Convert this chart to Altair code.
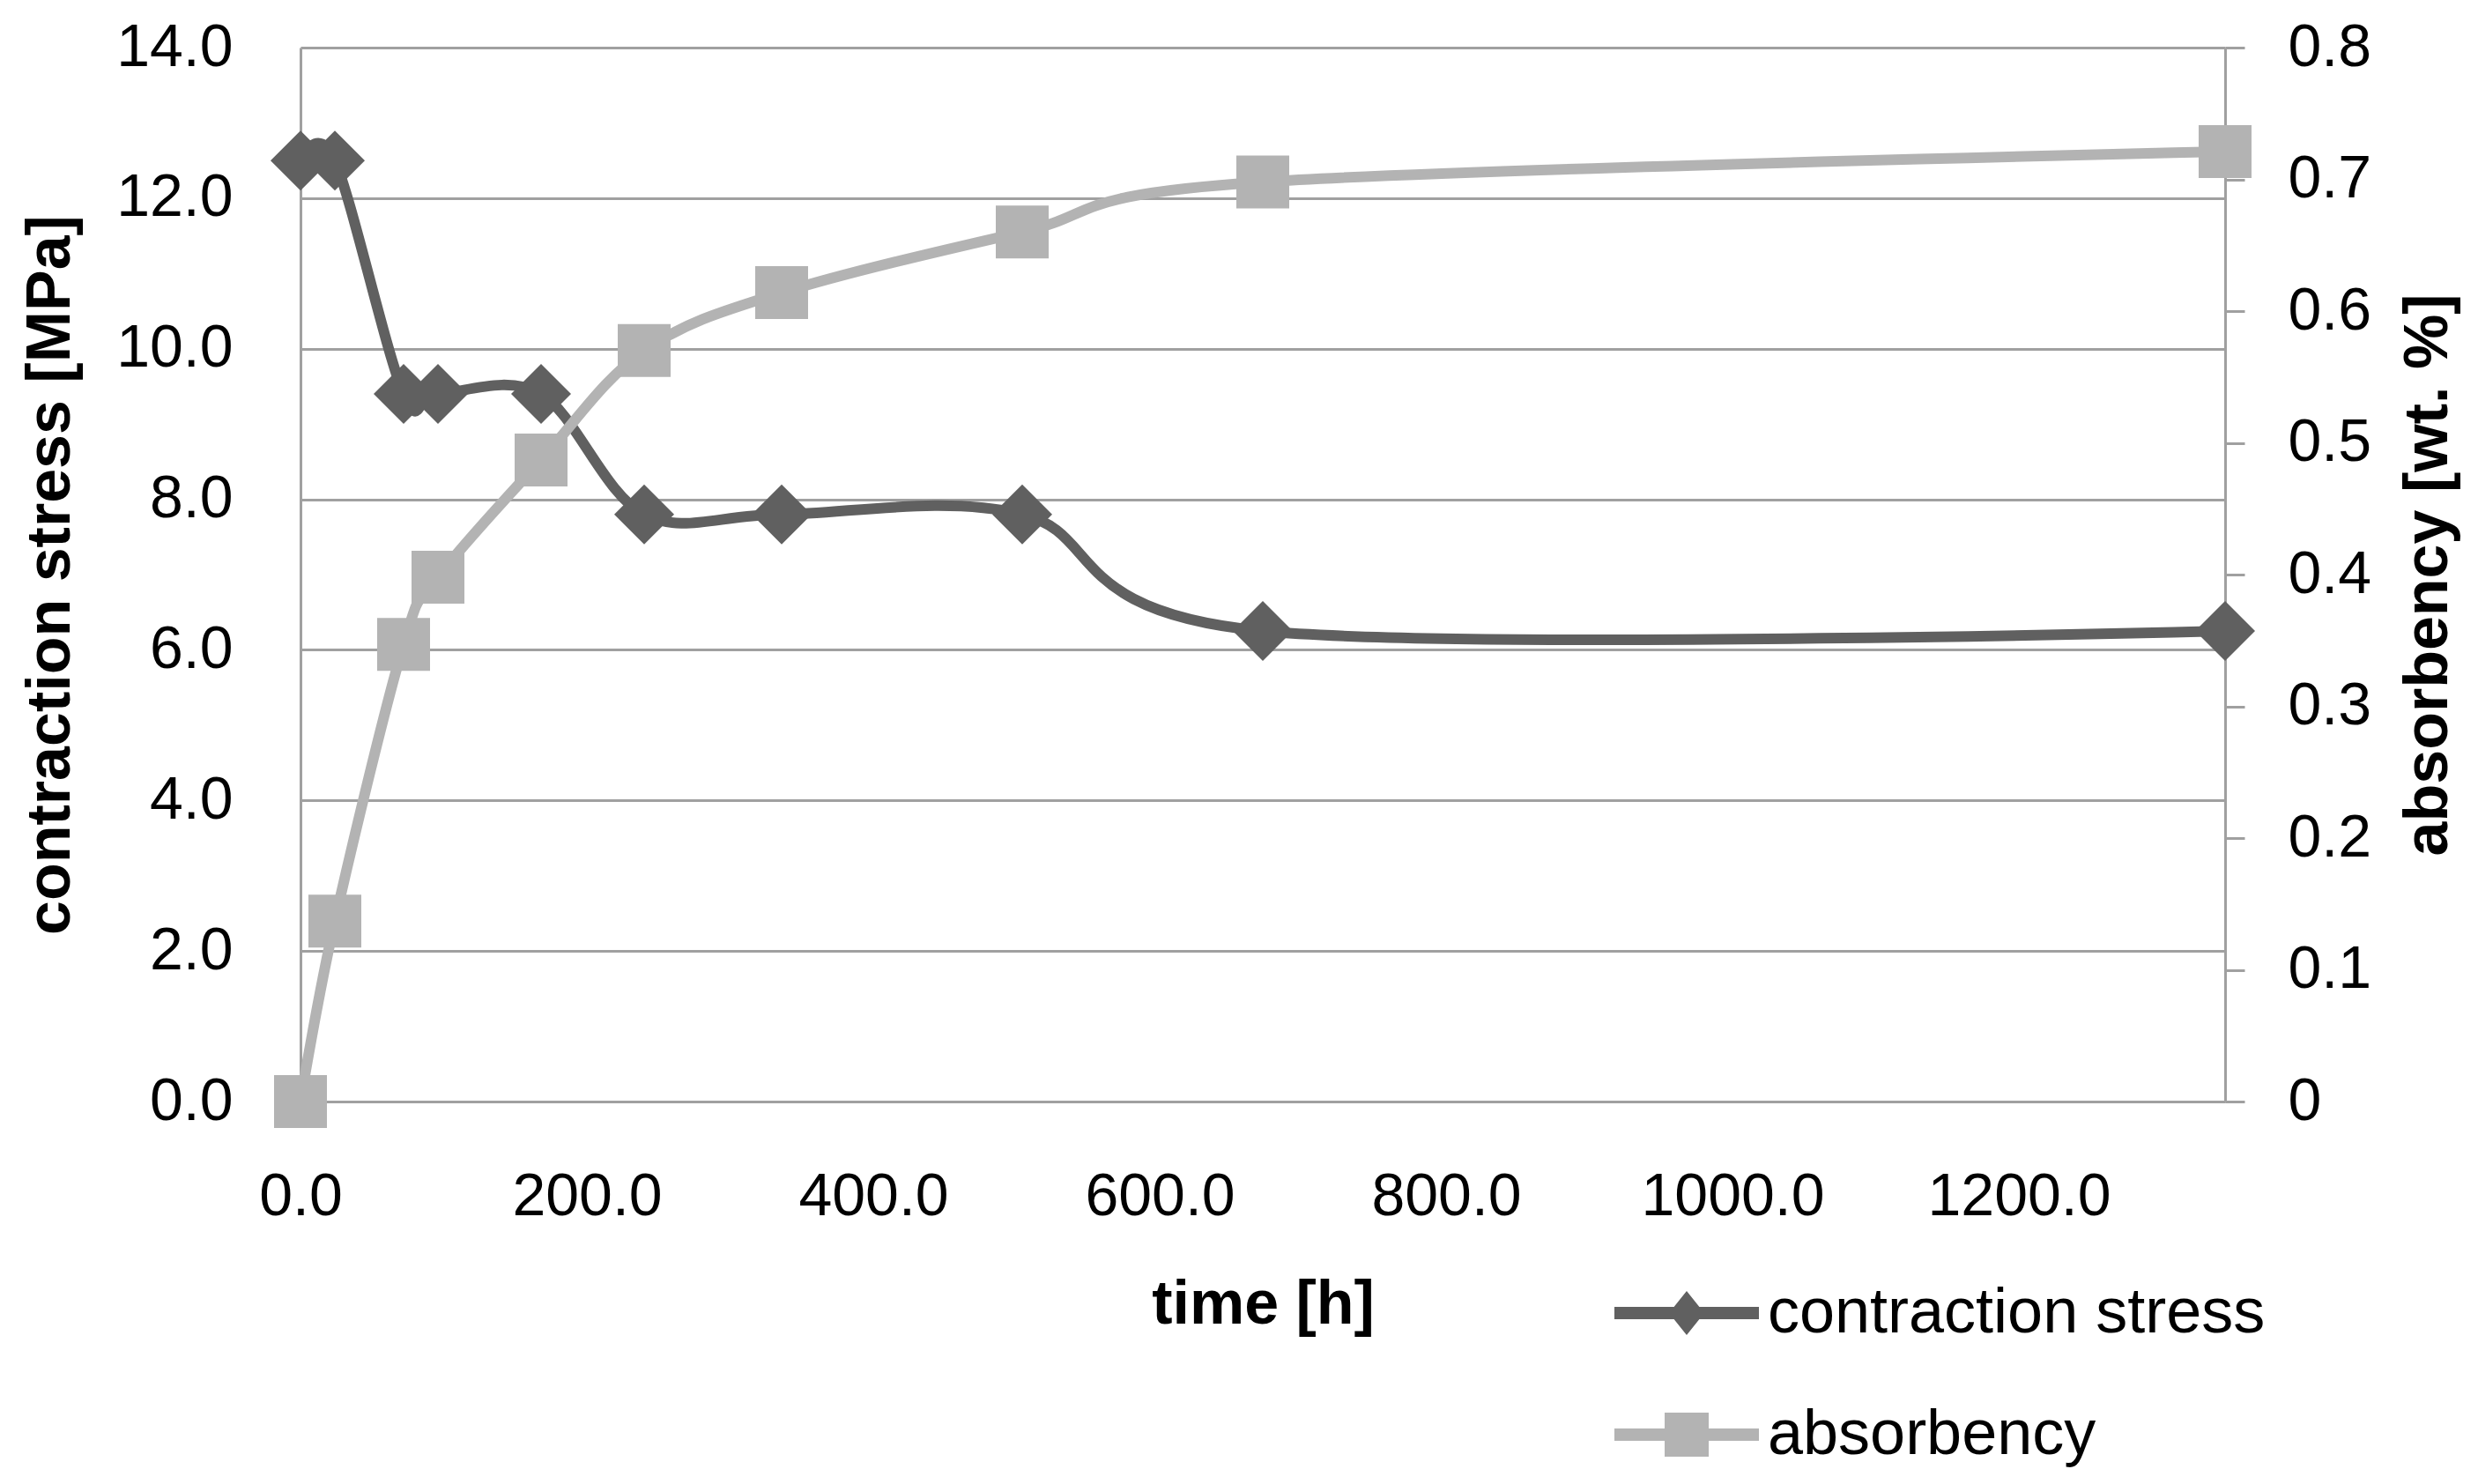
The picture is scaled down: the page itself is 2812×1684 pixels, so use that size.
import altair as alt
import pandas as pd

# ---- data ----
time_h = [0, 24, 72, 96, 168, 240, 336, 504, 672, 1344]
stress_mpa = [12.5, 12.5, 9.4, 9.4, 9.4, 7.8, 7.8, 7.8, 6.25, 6.25]
absorbency_pct = [0.0, 0.137, 0.347, 0.398, 0.487, 0.570, 0.614, 0.660, 0.698, 0.721]
series_names = ["contraction stress", "absorbency"]
x_ticks = [0, 200, 400, 600, 800, 1000, 1200]
left_ticks = [0, 2, 4, 6, 8, 10, 12, 14]
right_ticks = [0, 0.1, 0.2, 0.3, 0.4, 0.5, 0.6, 0.7, 0.8]

df = pd.DataFrame({"time": time_h, "stress": stress_mpa, "absorbency": absorbency_pct})
legend_df = pd.DataFrame({"series": series_names})

FONT = "Liberation Sans"
DARK = "#606060"
LIGHT = "#b3b3b3"
GRID = "#a0a0a0"

# legend symbols: line with marker
P_DIAMOND = "M-3.28,-0.28H-0.576L0,-1L0.576,-0.28H3.28V0.28H0.576L0,1L-0.576,0.28H-3.28Z"
P_SQUARE = "M-3.28,-0.28H-1V-1H1V-0.28H3.28V0.28H1V1H-1V0.28H-3.28Z"

x_enc = alt.X(
    "time:Q",
    scale=alt.Scale(domain=[0, 1344], nice=False, zero=True),
    axis=alt.Axis(
        values=x_ticks, format=".1f", title="time [h]", grid=False, ticks=False,
        labelPadding=74, labelFlush=False, labelOverlap=False, labelLimit=1000,
        domainColor=GRID, domainWidth=3, titlePadding=54,
    ),
)

y_left = alt.Y(
    "stress:Q",
    scale=alt.Scale(domain=[0, 14], nice=False, zero=True),
    axis=alt.Axis(
        values=left_ticks, format=".1f", title="contraction stress [MPa]",
        grid=True, gridColor=GRID, gridWidth=3, ticks=False,
        domainColor=GRID, domainWidth=3, labelPadding=77, titlePadding=48,
        labelOverlap=False, labelLimit=1000,
    ),
)

y_right = alt.Y(
    "absorbency:Q",
    scale=alt.Scale(domain=[0, 0.8], nice=False, zero=True),
    axis=alt.Axis(
        orient="right", values=right_ticks,
        labelExpr="datum.value == 0 ? '0' : format(datum.value, '.1f')",
        title="absorbency [wt. %]", grid=False,
        tickColor=GRID, tickWidth=3, tickSize=22,
        domainColor=GRID, domainWidth=3, labelPadding=49,
        titleAngle=270, titleBaseline="top", titlePadding=31,
        labelOverlap=False, labelLimit=1000,
    ),
)

base = alt.Chart(df)

stress_line = base.mark_line(color=DARK, strokeWidth=12, interpolate="cardinal").encode(x=x_enc, y=y_left)
stress_pts = base.mark_point(shape="diamond", filled=True, color=DARK, size=4624, opacity=1).encode(x=x_enc, y=y_left)

abs_line = base.mark_line(color=LIGHT, strokeWidth=12, interpolate="cardinal").encode(x=x_enc, y=y_right)
abs_pts = base.mark_point(shape="square", filled=True, color=LIGHT, size=3600, opacity=1).encode(x=x_enc, y=y_right)

leg = alt.Legend(
    title=None, orient="none", legendX=1537, legendY=1400,
    labelFont=FONT, labelFontSize=72, labelColor="black", labelLimit=2000,
    symbolSize=2500, symbolStrokeWidth=0, symbolOpacity=1,
    labelOffset=56, rowPadding=66, padding=0,
)

legend_layer = (
    alt.Chart(legend_df)
    .transform_filter("false")
    .mark_point(filled=True)
    .encode(
        color=alt.Color("series:N", scale=alt.Scale(domain=series_names, range=[DARK, LIGHT]), legend=leg),
        shape=alt.Shape("series:N", scale=alt.Scale(domain=series_names, range=[P_DIAMOND, P_SQUARE]), legend=leg),
    )
)

chart = (
    alt.layer(
        alt.layer(stress_line, stress_pts, legend_layer),
        alt.layer(abs_line, abs_pts),
    )
    .resolve_scale(y="independent")
    .properties(
        width=2184, height=1196,
        padding={"left": 333, "top": 46, "right": 275, "bottom": 418},
        autosize=alt.AutoSizeParams(type="none"),
        background="white",
    )
    .configure_view(stroke=None)
    .configure_axis(
        labelFont=FONT, labelFontSize=68, labelColor="black",
        titleFont=FONT, titleFontSize=70, titleFontWeight="bold", titleColor="black",
    )
)

chart.save("out.html", embed_options={"renderer": "svg", "actions": False})
